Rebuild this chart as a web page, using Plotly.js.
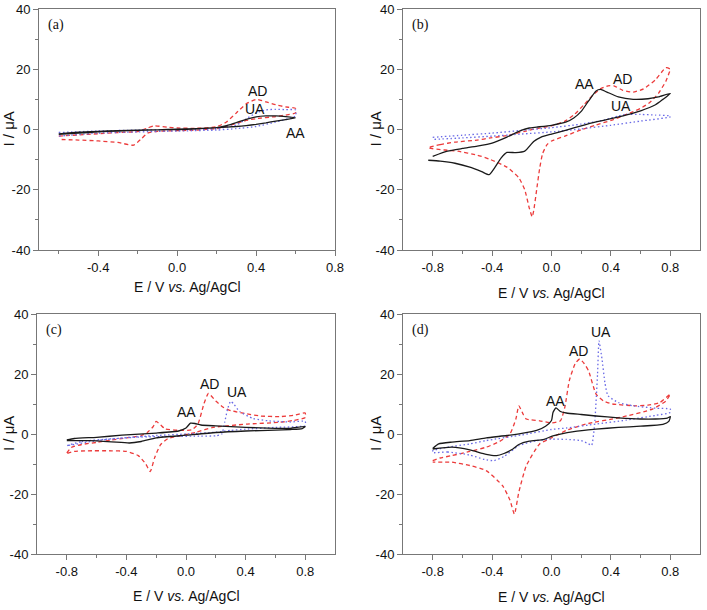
<!DOCTYPE html>
<html>
<head>
<meta charset="utf-8">
<script src="https://cdn.plot.ly/plotly-3.0.1.min.js"></script>
<style>html,body{margin:0;padding:0;background:#fff;}#chart{width:707px;height:610px;}</style>
</head>
<body>
<div id="chart"></div>
<script>
// ---------- Panel (a) ----------
const a_AA_Eup = [-0.6,-0.5,-0.4,-0.3,-0.2,-0.1,0,0.1,0.2,0.25,0.3,0.35,0.4,0.45,0.5,0.55,0.6];
const a_AA_Iup = [-1.5,-0.9,-0.6,-0.4,-0.2,-0.1,0,0.2,0.6,1.3,2.3,3.4,4.2,4.5,4.5,4.3,3.9];
const a_AA_Edn = [0.55,0.5,0.45,0.4,0.35,0.3,0.2,0.1,0,-0.1,-0.2,-0.3,-0.4,-0.5,-0.6];
const a_AA_Idn = [3.3,2.8,2.2,1.7,1.3,1.0,0.6,0.3,0.1,-0.1,-0.3,-0.5,-0.8,-1.2,-1.6];

const a_AD_Eup = [-0.6,-0.5,-0.4,-0.3,-0.2,-0.15,-0.12,-0.05,0,0.1,0.2,0.25,0.3,0.35,0.4,0.45,0.5,0.55,0.6];
const a_AD_Iup = [-2.2,-1.8,-1.4,-1.0,-0.7,0.5,1.2,0.8,0.5,0.4,0.9,2.5,5.5,8.5,10,9.2,8.2,7.5,7.0];
const a_AD_Edn = [0.6,0.55,0.5,0.4,0.35,0.3,0.25,0.2,0.1,0,-0.1,-0.15,-0.18,-0.22,-0.3,-0.4,-0.5,-0.6];
const a_AD_Idn = [5.5,4.8,4.3,3.6,3.0,2.0,1.0,0.3,-0.2,-0.4,-0.6,-1.2,-3,-5.2,-4.3,-3.8,-3.5,-3.3];

const a_UA_Eup = [-0.6,-0.4,-0.2,0,0.2,0.3,0.35,0.4,0.45,0.5,0.55,0.6];
const a_UA_Iup = [-1.0,-0.5,-0.2,0,0.3,1.5,3.5,5.5,6.5,6.7,6.6,6.5];
const a_UA_Edn = [0.6,0.5,0.4,0.3,0.2,0,-0.2,-0.4,-0.6];
const a_UA_Idn = [4.5,2.5,1.0,0.3,-0.2,-0.5,-0.8,-1.2,-2.2];

// ---------- Panel (b) ----------
const b_AA_Eup = [-0.8,-0.7,-0.6,-0.5,-0.4,-0.3,-0.2,-0.15,-0.1,0,0.1,0.15,0.2,0.25,0.3,0.33,0.37,0.45,0.55,0.65,0.72,0.8];
const b_AA_Iup = [-8.9,-7.2,-6.3,-5.5,-4.5,-2.5,-0.2,0.5,0.8,1.4,2.5,3.8,6,9.5,12.8,13.3,12.5,10.8,10,10.2,10.8,12];
const b_AA_Edn = [0.75,0.7,0.6,0.5,0.4,0.3,0.2,0.1,0,-0.07,-0.12,-0.18,-0.24,-0.3,-0.34,-0.38,-0.42,-0.47,-0.55,-0.65,-0.75,-0.83];
const b_AA_Idn = [10,8.2,6.2,4.8,3.6,2.5,1.2,-0.2,-1.5,-2.5,-4,-7.2,-7.7,-7.6,-9.5,-12.5,-15,-14,-12.5,-11.2,-10.5,-10.2];

const b_AD_Eup = [-0.83,-0.75,-0.65,-0.5,-0.41,-0.3,-0.18,-0.1,0,0.09,0.15,0.22,0.28,0.33,0.38,0.42,0.48,0.55,0.62,0.7,0.77,0.8];
const b_AD_Iup = [-6.1,-5,-4.2,-3.5,-2.8,-2,-0.6,0.3,1.2,2.8,4.8,8.3,11.5,13.5,14.5,14.5,13,12.4,13.5,16.5,20.5,20];
const b_AD_Edn = [0.79,0.77,0.72,0.66,0.6,0.53,0.4,0.3,0.2,0.09,0,-0.03,-0.06,-0.08,-0.1,-0.12,-0.13,-0.15,-0.18,-0.22,-0.3,-0.41,-0.5,-0.63,-0.72,-0.83];
const b_AD_Idn = [18.5,16,12,8.9,7,5.5,3,1.5,-0.1,-2.2,-3.8,-5,-8,-13,-20,-27,-29,-26,-20,-16,-12.5,-10,-8.5,-7.2,-6.8,-6.1];

const b_UA_Eup = [-0.8,-0.6,-0.4,-0.2,0,0.2,0.36,0.45,0.5,0.6,0.7,0.8];
const b_UA_Iup = [-2.6,-1.9,-1.2,-0.3,0.6,1.8,3.2,4.5,5.0,5.0,4.8,4.5];
const b_UA_Edn = [0.8,0.6,0.4,0.2,0,-0.2,-0.4,-0.6,-0.8];
const b_UA_Idn = [4.2,2.8,1.4,0.2,-0.8,-1.5,-2.2,-2.8,-3.3];

// ---------- Panel (c) ----------
const c_AA_Eup = [-0.8,-0.75,-0.6,-0.43,-0.2,-0.05,0,0.03,0.06,0.1,0.2,0.4,0.6,0.7,0.8];
const c_AA_Iup = [-2.0,-1.5,-1.1,-0.4,0.3,1.0,2.0,3.6,3.5,3.0,2.7,2.2,1.9,1.9,2.5];
const c_AA_Edn = [0.78,0.7,0.6,0.4,0.2,0,-0.2,-0.3,-0.38,-0.5,-0.65,-0.8];
const c_AA_Idn = [1.8,1.5,1.3,1.0,0.5,-0.4,-1.3,-2.5,-3.0,-2.6,-2.2,-2.2];

const c_AD_Eup = [-0.8,-0.77,-0.7,-0.6,-0.5,-0.4,-0.3,-0.26,-0.22,-0.2,-0.17,-0.14,-0.04,0.04,0.08,0.12,0.15,0.2,0.25,0.3,0.41,0.5,0.63,0.72,0.8];
const c_AD_Iup = [-6.3,-4.5,-3.5,-2.8,-2.0,-1.3,-0.5,0.5,2.5,4.2,3.0,1.7,1.2,1.4,3.3,10,13.5,11,8.9,7.8,6.7,6.0,5.8,6.2,7.0];
const c_AD_Edn = [0.8,0.72,0.63,0.41,0.18,0.07,-0.04,-0.12,-0.17,-0.21,-0.24,-0.27,-0.32,-0.4,-0.5,-0.66,-0.75,-0.8];
const c_AD_Idn = [5.5,4.5,3.9,3.3,2.2,0.6,-0.6,-1.5,-3.5,-7.8,-12.5,-10,-7.2,-5.8,-5.6,-5.6,-5.8,-6.5];

const c_UA_Eup = [-0.8,-0.7,-0.5,-0.3,-0.1,0.1,0.2,0.24,0.26,0.28,0.3,0.32,0.36,0.45,0.55,0.7,0.8];
const c_UA_Iup = [-3.9,-2.5,-1.6,-1.0,-0.8,-0.7,-0.6,0,4,8.5,10.9,10,7.5,5.2,4.4,4.0,4.2];
const c_UA_Edn = [0.8,0.6,0.4,0.3,0.2,0,-0.2,-0.4,-0.6,-0.8];
const c_UA_Idn = [2.8,2.2,1.6,1.2,0.6,0,-0.5,-1.2,-2.2,-3.9];

// ---------- Panel (d) ----------
const d_AA_Eup = [-0.8,-0.76,-0.67,-0.55,-0.44,-0.3,-0.2,-0.1,-0.04,0,0.01,0.03,0.06,0.1,0.2,0.3,0.45,0.6,0.7,0.78,0.8];
const d_AA_Iup = [-4.8,-3.3,-2.7,-2.2,-1.3,-0.5,0.2,1.2,2.6,4.5,7.2,8.7,7.5,7.0,6.5,6.0,5.4,5.0,5.0,5.3,5.8];
const d_AA_Edn = [0.79,0.75,0.6,0.45,0.3,0.15,0.01,-0.05,-0.15,-0.22,-0.26,-0.32,-0.37,-0.44,-0.55,-0.67,-0.8];
const d_AA_Idn = [4.2,3.2,2.6,2.2,1.6,0.8,-0.6,-1.8,-2.4,-3.5,-5,-6.5,-7.2,-6.8,-5.3,-4.4,-5.0];

const d_AD_Eup = [-0.8,-0.75,-0.67,-0.55,-0.44,-0.35,-0.28,-0.24,-0.22,-0.19,-0.17,-0.08,0,0.06,0.09,0.12,0.16,0.19,0.22,0.25,0.3,0.35,0.41,0.57,0.65,0.73,0.8];
const d_AD_Iup = [-8.9,-8,-7.2,-5.8,-4.4,-2.5,0,5,9.4,6.5,5,4.4,3.7,4.4,9,17.8,23.5,25,23.5,21,13.3,11,10,9.4,9.6,10.5,13.3];
const d_AD_Edn = [0.77,0.68,0.46,0.23,0.1,0,-0.08,-0.17,-0.22,-0.25,-0.28,-0.33,-0.44,-0.55,-0.67,-0.8];
const d_AD_Idn = [11,8.3,5.5,3.3,1.2,-1.3,-3.3,-10.6,-19.4,-26.7,-22,-17.2,-12.2,-10.5,-9.4,-9.4];

const d_UA_Eup = [-0.8,-0.7,-0.55,-0.45,-0.39,-0.32,-0.22,-0.1,0,0.1,0.2,0.25,0.27,0.29,0.31,0.32,0.34,0.36,0.38,0.45,0.55,0.7,0.8];
const d_UA_Iup = [-6.2,-6.0,-7.0,-8.5,-8.9,-7.5,-3.9,-2.2,-1.7,-1.8,-2.2,-3.3,-3.8,3,20,31,25,17,12.8,10.5,9.4,8.6,8.3];
const d_UA_Edn = [0.8,0.7,0.5,0.3,0.1,0,-0.2,-0.44,-0.55,-0.7,-0.8,-0.8];
const d_UA_Idn = [7.2,6.2,4.6,3.3,2.0,1.5,-0.3,-2.2,-3.3,-4.4,-5.6,-6.2];

// ---------- Ticks & labels ----------
const xTickValsA = [-0.4,0,0.4,0.8];
const xTickTextA = ['-0.4','0.0','0.4','0.8'];
const xTickVals = [-0.8,-0.4,0,0.4,0.8];
const xTickText = ['-0.8','-0.4','0.0','0.4','0.8'];
const xMinorVals = [-0.6,-0.2,0.2,0.6];
const yTickVals = [-40,-20,0,20,40];
const yTickText = ['-40','-20','0','20','40'];
const yMinorVals = [-30,-10,10,30];
const panelLabels = ['(a)','(b)','(c)','(d)'];
const xTitle = 'E / V <i>vs.</i> Ag/AgCl';
const yTitle = 'I / \u03bcA';

const RED = '#ec3b3b', BLUE = '#6a6ae6', BLACK = '#1a1a1a';
const AX = '#777';

function loop(eu, iu, ed, id_, xa, ya, color, dash, name) {
  return {
    x: eu.concat(ed), y: iu.concat(id_), xaxis: xa, yaxis: ya,
    type: 'scatter', mode: 'lines', name: name, showlegend: false,
    line: {color: color, width: 1.3, dash: dash, shape: 'spline', smoothing: 0.5},
    hoverinfo: 'skip'
  };
}
const DASH = '4px,3px', DOT = '1.5px,2.5px';
const data = [
  loop(a_AD_Eup,a_AD_Iup,a_AD_Edn,a_AD_Idn,'x','y',RED,DASH,'AD'),
  loop(a_UA_Eup,a_UA_Iup,a_UA_Edn,a_UA_Idn,'x','y',BLUE,DOT,'UA'),
  loop(a_AA_Eup,a_AA_Iup,a_AA_Edn,a_AA_Idn,'x','y',BLACK,'solid','AA'),
  loop(b_AD_Eup,b_AD_Iup,b_AD_Edn,b_AD_Idn,'x2','y2',RED,DASH,'AD'),
  loop(b_UA_Eup,b_UA_Iup,b_UA_Edn,b_UA_Idn,'x2','y2',BLUE,DOT,'UA'),
  loop(b_AA_Eup,b_AA_Iup,b_AA_Edn,b_AA_Idn,'x2','y2',BLACK,'solid','AA'),
  loop(c_AD_Eup,c_AD_Iup,c_AD_Edn,c_AD_Idn,'x3','y3',RED,DASH,'AD'),
  loop(c_UA_Eup,c_UA_Iup,c_UA_Edn,c_UA_Idn,'x3','y3',BLUE,DOT,'UA'),
  loop(c_AA_Eup,c_AA_Iup,c_AA_Edn,c_AA_Idn,'x3','y3',BLACK,'solid','AA'),
  loop(d_AD_Eup,d_AD_Iup,d_AD_Edn,d_AD_Idn,'x4','y4',RED,DASH,'AD'),
  loop(d_UA_Eup,d_UA_Iup,d_UA_Edn,d_UA_Idn,'x4','y4',BLUE,DOT,'UA'),
  loop(d_AA_Eup,d_AA_Iup,d_AA_Edn,d_AA_Idn,'x4','y4',BLACK,'solid','AA')
];

const FONT = 'Liberation Sans';
function xax(domain, range, anchor, tv, tt) {
  return {domain: domain, range: range, anchor: anchor, tickmode: 'array', tickvals: tv, ticktext: tt,
    ticks: 'outside', ticklen: 5, tickwidth: 1, tickcolor: AX, showline: true, linecolor: AX, linewidth: 1,
    mirror: true, showgrid: false, zeroline: false,
    tickfont: {family: FONT, size: 13, color: '#111'},
    minor: {tickmode: 'array', tickvals: xMinorVals, ticks: 'outside', ticklen: 3, tickcolor: AX, showgrid: false}};
}
function yax(domain, anchor) {
  return {domain: domain, range: [-40, 40], anchor: anchor, tickmode: 'array', tickvals: yTickVals, ticktext: yTickText,
    ticks: 'outside', ticklen: 5, tickwidth: 1, tickcolor: AX, showline: true, linecolor: AX, linewidth: 1,
    mirror: true, showgrid: false, zeroline: false,
    tickfont: {family: FONT, size: 13, color: '#111'},
    minor: {tickmode: 'array', tickvals: yMinorVals, ticks: 'outside', ticklen: 3, tickcolor: AX, showgrid: false}};
}
const xdL = [39/707, 335/707], xdR = [403/707, 700/707];
const ydT = [1-250/610, 1-9/610], ydB = [1-554/610, 1-314/610];

const annotations = [];
const axes = [['x','y',-37,-31],['x2','y2',-43,-28],['x3','y3',-42,-29],['x4','y4',-43,-28]];
axes.forEach(function(a, k) {
  const xd = a[0] + ' domain';
  const yd = a[1] + ' domain';
  annotations.push({xref: xd, yref: yd, x: 0.5, y: 0, yshift: a[2], text: xTitle, showarrow: false,
    xanchor: 'center', yanchor: 'middle', font: {family: FONT, size: 14, color: '#111'}});
  annotations.push({xref: xd, yref: yd, x: 0, y: 0.5, xshift: a[3], text: yTitle, showarrow: false, textangle: -90,
    xanchor: 'center', yanchor: 'middle', font: {family: FONT, size: 15, color: '#111'}});
  annotations.push({xref: xd, yref: yd, x: 0.025, y: 0.935, text: panelLabels[k], showarrow: false,
    xanchor: 'left', yanchor: 'middle', font: {family: 'Liberation Serif', size: 14, color: '#111'}});
});
function lab(xr, yr, x, y, t) {
  annotations.push({xref: xr, yref: yr, x: x, y: y, text: t, showarrow: false, xanchor: 'center', yanchor: 'middle',
    font: {family: FONT, size: 14, color: '#111'}});
}
lab('x','y',0.405,12.7,'AD'); lab('x','y',0.395,6.7,'UA'); lab('x','y',0.6,-1.2,'AA');
lab('x2','y2',0.22,15,'AA'); lab('x2','y2',0.48,16.7,'AD'); lab('x2','y2',0.47,7.8,'UA');
lab('x3','y3',0.0,7.2,'AA'); lab('x3','y3',0.16,16.7,'AD'); lab('x3','y3',0.34,13.9,'UA');
lab('x4','y4',0.03,11.1,'AA'); lab('x4','y4',0.18,27.8,'AD'); lab('x4','y4',0.33,33.9,'UA');

const layout = {
  width: 707, height: 610, margin: {l: 0, r: 0, t: 0, b: 0},
  paper_bgcolor: '#fff', plot_bgcolor: '#fff', showlegend: false,
  xaxis: xax(xdL, [-0.7, 0.8], 'y', xTickValsA, xTickTextA),
  yaxis: yax(ydT, 'x'),
  xaxis2: xax(xdR, [-1.0, 1.0], 'y2', xTickVals, xTickText),
  yaxis2: yax(ydT, 'x2'),
  xaxis3: xax([37/707, 335/707], [-1.0, 1.0], 'y3', xTickVals, xTickText),
  yaxis3: yax(ydB, 'x3'),
  xaxis4: xax(xdR, [-1.0, 1.0], 'y4', xTickVals, xTickText),
  yaxis4: yax(ydB, 'x4'),
  annotations: annotations
};
Plotly.newPlot('chart', data, layout, {displayModeBar: false, staticPlot: true});
</script>
</body>
</html>
